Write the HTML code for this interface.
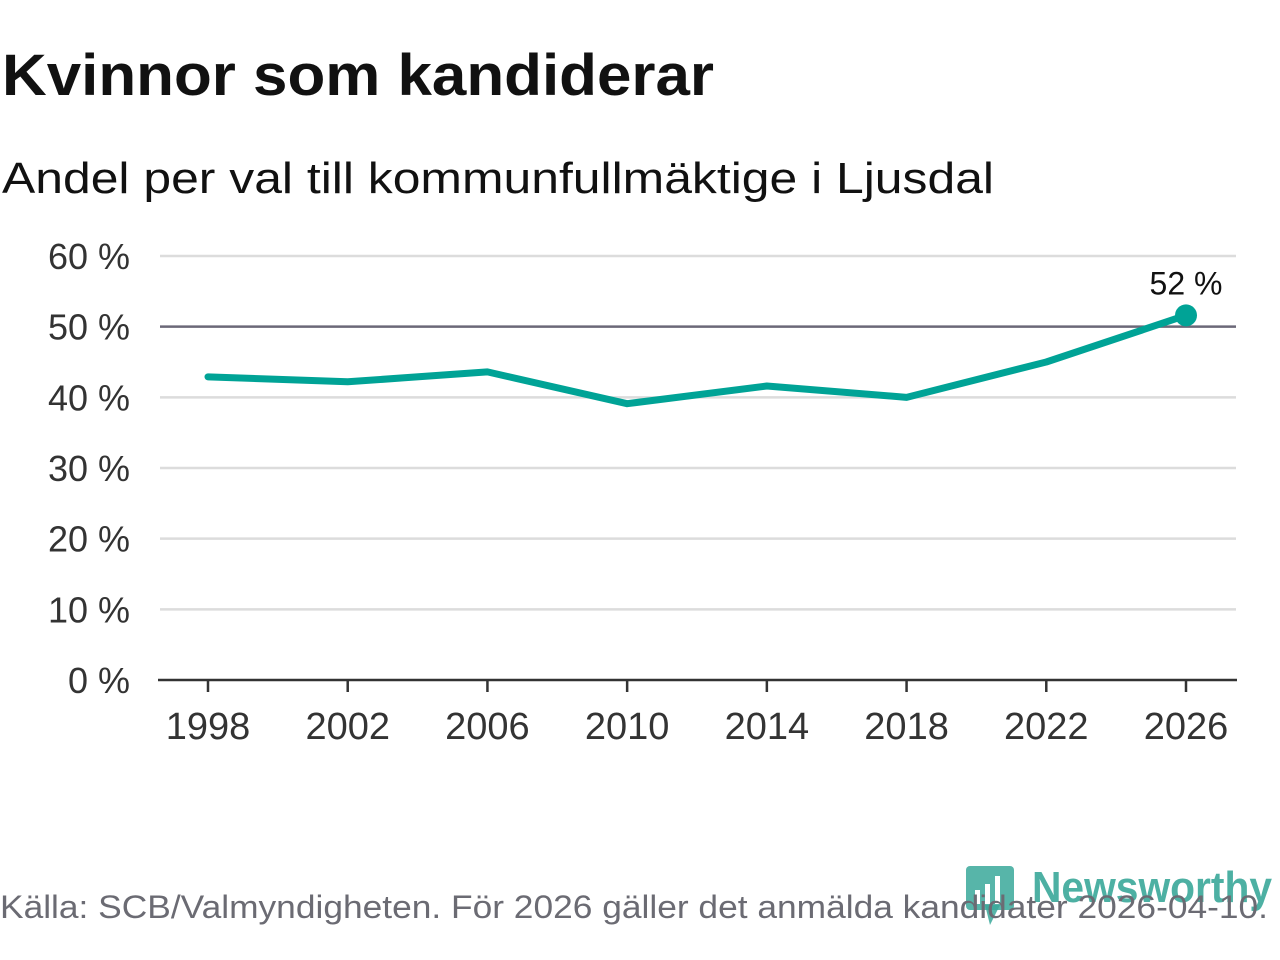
<!DOCTYPE html>
<html><head><meta charset="utf-8"><style>
html,body{margin:0;padding:0;background:#fff;width:1280px;height:960px;overflow:hidden}
svg text{font-family:"Liberation Sans","DejaVu Sans",sans-serif}
</style></head><body>
<svg id="chart" width="1280" height="960" xmlns="http://www.w3.org/2000/svg">
<text x="2" y="95" font-size="58" font-weight="bold" fill="#111" textLength="712" lengthAdjust="spacingAndGlyphs">Kvinnor som kandiderar</text>
<text x="2" y="193" font-size="44" fill="#111" textLength="992" lengthAdjust="spacingAndGlyphs">Andel per val till kommunfullmäktige i Ljusdal</text>
<g id="grid"></g><g id="xaxis"></g><g id="series"></g>
<g>
<rect x="966" y="866" width="48" height="44" rx="4" fill="#3aa89a" opacity="0.85"/>
<polygon points="985,905 1000,905 990,925" fill="#3aa89a" opacity="0.85"/>
<rect x="975" y="890" width="5" height="14" fill="#fff"/><rect x="985" y="884" width="5" height="20" fill="#fff"/><rect x="995" y="876" width="5" height="28" fill="#fff"/>
<text x="1032" y="902" font-size="44" font-weight="bold" fill="#3aa89a" opacity="0.9" textLength="240" lengthAdjust="spacingAndGlyphs">Newsworthy</text>
</g>
<text x="0" y="918" font-size="32" fill="#6b6b73" textLength="1268" lengthAdjust="spacingAndGlyphs">Källa: SCB/Valmyndigheten. För 2026 gäller det anmälda kandidater 2026-04-10.</text>
</svg>
<script>
const years=[1998,2002,2006,2010,2014,2018,2022,2026];
const values=[42.9,42.2,43.6,39.1,41.6,40.0,45.0,51.6];
const yTicks=[0,10,20,30,40,50,60];
const lastLabel="52 %";
const NS="http://www.w3.org/2000/svg";
const x=y=>208+(y-1998)*(1186-208)/28;
const yy=v=>680-v*(680-256)/60;
function mk(t,a,p){const e=document.createElementNS(NS,t);for(const k in a)e.setAttribute(k,a[k]);p.appendChild(e);return e;}
const grid=document.getElementById('grid');
yTicks.forEach(t=>{
  if(t>0){const l=mk('line',{x1:160,x2:1236,y1:yy(t),y2:yy(t),stroke:t===50?'#6b6878':'#dcdcdc','stroke-width':2.5},grid);
  
  }
  const tx=mk('text',{x:130,y:yy(t)+13,'font-size':36,fill:'#333','text-anchor':'end'},grid);
  tx.textContent=t+' %';
  
  
});
const xa=document.getElementById('xaxis');
const ax=mk('line',{x1:158,x2:1237,y1:680,y2:680,stroke:'#333','stroke-width':2.5},xa);


years.forEach(yv=>{
  const tk=mk('line',{x1:x(yv),x2:x(yv),y1:680,y2:692,stroke:'#333','stroke-width':2.5},xa);
  
  
  const t=mk('text',{x:x(yv),y:739,'font-size':38,fill:'#333','text-anchor':'middle'},xa);
  t.textContent=yv;
  
  
});
const s=document.getElementById('series');
const p=mk('polyline',{points:years.map((yv,i)=>x(yv)+','+yy(values[i])).join(' '),fill:'none',stroke:'#00a396','stroke-width':7,'stroke-linejoin':'round','stroke-linecap':'round'},s);


const n=years.length-1;
const c=mk('circle',{cx:x(years[n]),cy:yy(values[n]),r:11,fill:'#00a396'},s);


const lb=mk('text',{x:x(years[n]),y:yy(values[n])-21,'font-size':32,fill:'#111','text-anchor':'middle'},s);
lb.textContent=lastLabel;


</script>
</body></html>
